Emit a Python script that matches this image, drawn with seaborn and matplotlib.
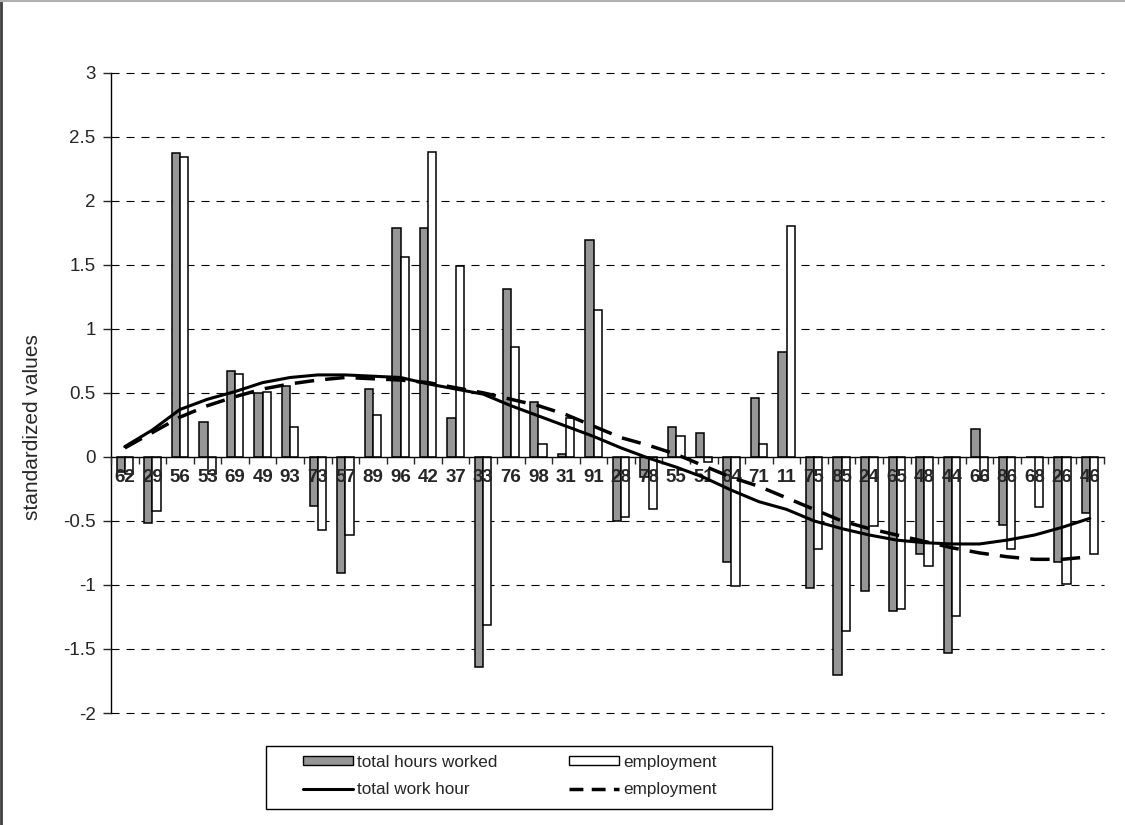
import numpy as np
import pandas as pd
import matplotlib
matplotlib.use("Agg")
import matplotlib.pyplot as plt
import seaborn as sns
from matplotlib.lines import Line2D
from matplotlib.patches import Rectangle, Patch
from matplotlib.ticker import FuncFormatter

# data
regions = ['62', '29', '56', '53', '69', '49', '93', '73', '57', '89', '96', '42',
           '37', '33', '76', '98', '31', '91', '28', '78', '55', '51', '64', '71',
           '11', '75', '85', '24', '65', '48', '44', '66', '86', '68', '26', '46']
hours_worked = [-0.12, -0.52, 2.37, 0.27, 0.67, 0.50, 0.55, -0.38, -0.91, 0.53, 1.79, 1.79,
                0.30, -1.64, 1.31, 0.43, 0.02, 1.69, -0.50, -0.16, 0.23, 0.19, -0.82, 0.46,
                0.82, -1.02, -1.70, -1.05, -1.20, -0.76, -1.53, 0.22, -0.53, 0.0, -0.82, -0.44]
employment = [-0.13, -0.42, 2.34, -0.13, 0.65, 0.51, 0.23, -0.57, -0.61, 0.33, 1.56, 2.38,
              1.49, -1.31, 0.86, 0.10, 0.30, 1.15, -0.47, -0.41, 0.16, -0.04, -1.01, 0.10,
              1.80, -0.72, -1.36, -0.54, -1.19, -0.85, -1.24, -0.18, -0.72, -0.39, -0.99, -0.76]
trend_hours = [0.08, 0.21, 0.37, 0.45, 0.51, 0.58, 0.62, 0.64, 0.64, 0.63, 0.62, 0.57,
               0.53, 0.49, 0.40, 0.32, 0.24, 0.16, 0.07, -0.01, -0.08, -0.16, -0.26, -0.35,
               -0.41, -0.50, -0.56, -0.61, -0.65, -0.67, -0.68, -0.68, -0.65, -0.61, -0.55, -0.48]
trend_employment = [0.07, 0.19, 0.31, 0.40, 0.47, 0.53, 0.57, 0.60, 0.62, 0.61, 0.60, 0.58,
                    0.54, 0.50, 0.45, 0.40, 0.33, 0.24, 0.15, 0.09, 0.02, -0.07, -0.16, -0.23,
                    -0.32, -0.41, -0.50, -0.56, -0.61, -0.66, -0.71, -0.75, -0.78, -0.80, -0.80, -0.78]

sns.set_style("white")
plt.rcParams['font.family'] = ['Liberation Sans', 'DejaVu Sans']
plt.rcParams['axes.unicode_minus'] = False
plt.rcParams['lines.scale_dashes'] = False

n = len(regions)
df = pd.DataFrame({
    'region': regions * 2,
    'value': hours_worked + employment,
    'series': ['total hours worked'] * n + ['employment'] * n,
})

fig = plt.figure(figsize=(11.25, 8.25), dpi=100)
ax = fig.add_axes([111 / 1125, 1 - 713 / 825, 992.6 / 1125, 640.3 / 825])

# dashed horizontal gridlines behind the bars
for yv in np.arange(-2, 3.01, 0.5):
    if yv != 0:
        ax.axhline(yv, color='black', lw=0.8, ls=(0, (5.8, 5)), zorder=0.5, clip_on=False)

sns.barplot(data=df, x='region', y='value', hue='series', order=regions,
            hue_order=['total hours worked', 'employment'],
            palette=['#969696', 'white'], edgecolor='black', linewidth=1.1,
            width=0.6, gap=0, errorbar=None, legend=False, ax=ax)

xs = np.arange(n)
sns.lineplot(x=xs, y=trend_hours, color='black', lw=2.2, ax=ax, zorder=3)
sns.lineplot(x=xs, y=trend_employment, color='black', lw=2.5, ls=(0, (14, 8)), ax=ax, zorder=3)

ax.set_axisbelow(False)
ax.set_xlim(-0.5, n - 0.5)
ax.set_ylim(-2, 3)
ax.set_xlabel('')
ax.set_ylabel('standardized values', fontsize=15)
ax.yaxis.set_label_coords(-0.07, 0.447)

for s in ['top', 'right']:
    ax.spines[s].set_visible(False)
ax.spines['bottom'].set_position(('data', 0))
ax.spines['bottom'].set_linewidth(1)
ax.spines['left'].set_linewidth(1)
ax.spines['bottom'].set_color('black')
ax.spines['left'].set_color('black')

ax.set_yticks(np.arange(-2, 3.01, 0.5))
ax.yaxis.set_major_formatter(FuncFormatter(lambda v, p: '%g' % v))
ax.tick_params(axis='y', direction='out', length=6, width=1, labelsize=13.5, pad=5, left=True)

ax.set_xticks(xs)
ax.set_xticklabels(regions, fontweight='bold', fontsize=13.5)
ax.set_xticks(np.arange(n + 1) - 0.5, minor=True)
ax.tick_params(axis='x', which='major', length=0, pad=9, bottom=True)
ax.tick_params(axis='x', which='minor', length=5, width=1, direction='out', bottom=True)

handles = [Patch(facecolor='#969696', edgecolor='black'),
           Line2D([], [], color='black', lw=2.2),
           Patch(facecolor='white', edgecolor='black'),
           Line2D([], [], color='black', lw=2.5, ls=(0, (10, 6)))]
labels = ['total hours worked', 'total work hour', 'employment', 'employment']
fig.legend(handles, labels, ncol=2, frameon=False, loc='center',
           bbox_to_anchor=(510 / 1125, 1 - 776 / 825), fontsize=12.3,
           handlelength=2.9, handleheight=0.45, handletextpad=0.25,
           columnspacing=4.2, labelspacing=0.75)
fig.add_artist(Rectangle((266 / 1125, 1 - 809 / 825), 506 / 1125, 63 / 825,
                         transform=fig.transFigure, fill=False, ec='black', lw=1))

# chart area border
fig.add_artist(Line2D([0.001, 0.001], [0, 1], color='#404040', lw=2, transform=fig.transFigure))
fig.add_artist(Line2D([0, 1], [0.999, 0.999], color='#b0b0b0', lw=1.5, transform=fig.transFigure))

fig.savefig('out.png', dpi=100)
